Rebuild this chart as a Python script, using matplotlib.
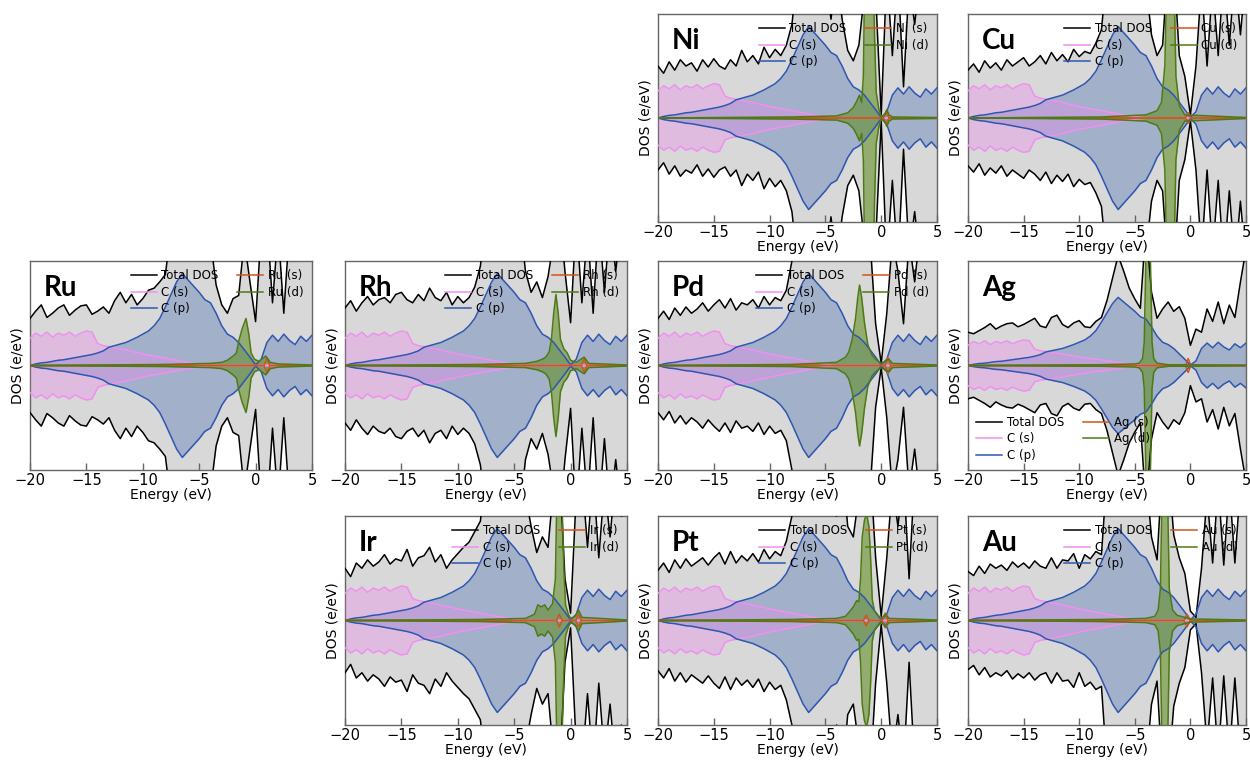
import numpy as np
import matplotlib
matplotlib.use("Agg")
import matplotlib.pyplot as plt

# energy grid of the carbon / total curves (eV)
ENERGY = np.linspace(-20, 5, 51)

# carbon projections (same sheet in every panel)
C_S = [2.6, 3.1, 2.8, 3.2, 2.7, 3.1, 2.9, 3.2, 2.8, 3.1,
       3.3, 3.2, 2.1, 1.9, 1.8, 1.7, 1.6, 1.5, 1.35, 1.25,
       1.1, 1.0, 0.9, 0.8, 0.72, 0.6, 0.5, 0.4, 0.3, 0.2,
       0.12, 0.06, 0.03, 0.02, 0.02, 0.02, 0.02, 0.02, 0.02, 0.02,
       0.01, 0.03, 0.05, 0.05, 0.04, 0.05, 0.05, 0.06, 0.05, 0.06, 0.06]
C_P = [0.0, 0.15, 0.25, 0.3, 0.4, 0.5, 0.55, 0.65, 0.75, 0.85,
       0.95, 1.05, 1.2, 1.4, 1.75, 1.9, 2.05, 2.2, 2.45, 2.7,
       3.0, 3.3, 3.8, 4.5, 5.6, 6.8, 8.0, 8.8, 8.2, 7.6,
       7.0, 6.3, 6.0, 5.0, 3.8, 3.0, 2.7, 2.2, 1.5, 0.8,
       0.05, 0.6, 2.2, 2.9, 2.3, 3.0, 2.4, 2.0, 2.8, 2.3, 2.9]

# total DOS per panel
NI_TOT = [5.0, 4.3, 5.4, 4.6, 5.6, 5.0, 5.3, 4.5, 5.6, 4.9,
          5.7, 5.0, 4.7, 5.6, 5.0, 6.5, 5.4, 6.0, 5.2, 6.8,
          5.8, 6.6, 6.0, 7.0, 9.0, 14, 15, 15, 15, 15,
          14, 9.5, 14, 9.5, 6.5, 5.5, 7.0, 12, 15, 12,
          0.3, 14, 6.0, 14, 3.0, 13, 9, 14, 12, 14, 14]
CU_TOT = [4.6, 5.2, 4.4, 5.5, 4.8, 5.3, 4.6, 5.6, 5.0, 5.4,
          5.8, 5.0, 5.4, 6.0, 5.2, 6.3, 5.5, 6.1, 5.4, 6.6,
          5.9, 6.4, 6.2, 7.2, 8.5, 14, 15, 15, 15, 15,
          15, 14, 13, 8.0, 6.0, 7.0, 15, 15, 6.0, 4.0,
          0.3, 5.0, 13, 5.0, 13, 6.0, 14, 7.0, 14, 8.0, 14]
RU_TOT = [4.5, 5.2, 5.8, 4.6, 5.0, 5.5, 5.8, 4.8, 5.3, 5.7,
          5.8, 4.9, 5.2, 5.6, 5.0, 6.2, 7.0, 6.0, 6.8, 5.8,
          6.4, 7.2, 7.4, 8.0, 8.7, 13, 15, 15, 15, 15,
          15, 14, 12, 7.7, 5.8, 5.0, 6.4, 6.7, 12, 8.0,
          4.2, 13, 14, 6.0, 13, 5.0, 13, 12, 14, 13, 14]
RH_TOT = [5.5, 6.2, 5.2, 6.0, 6.6, 5.8, 6.3, 6.5, 6.0, 6.8,
          7.0, 6.3, 6.0, 6.8, 6.2, 7.4, 6.5, 6.2, 7.0, 5.8,
          6.6, 6.0, 6.5, 7.5, 9.5, 14, 15, 15, 15, 15,
          15, 14, 9.0, 7.0, 8.0, 6.5, 8.5, 12, 15, 9.0,
          4.1, 14, 6.0, 13, 5.0, 14, 7.0, 14, 9.0, 14, 14]
PD_TOT = [4.5, 5.2, 4.4, 5.5, 4.8, 5.6, 5.0, 5.4, 6.0, 5.2,
          5.8, 6.3, 5.5, 6.4, 5.3, 6.0, 5.8, 6.3, 5.5, 6.6,
          5.8, 6.5, 6.2, 7.2, 10, 14, 15, 15, 15, 15,
          15, 15, 15, 15, 15, 14, 15, 14, 12, 4.0,
          0.2, 5.0, 12, 9.0, 4.0, 12, 8.0, 13, 14, 14, 15]
AG_TOT = [4.3, 4.1, 4.5, 4.9, 5.4, 4.7, 5.1, 5.4, 5.5, 5.0,
          5.3, 5.7, 6.1, 5.1, 4.9, 6.2, 6.5, 5.3, 4.9, 5.5,
          5.8, 5.0, 4.9, 5.7, 6.2, 8.4, 11.3, 14.2, 12.2, 10.0,
          8.6, 7.4, 18, 9.5, 6.1, 7.3, 8.2, 7.0, 7.6, 6.1,
          2.6, 4.7, 4.3, 7.3, 5.7, 8.2, 5.4, 7.8, 6.2, 10.8, 15]
IR_TOT = [5.0, 4.2, 5.5, 5.0, 5.8, 5.2, 5.6, 6.3, 5.4, 5.9,
          5.7, 6.8, 5.2, 6.0, 6.2, 7.0, 5.6, 6.3, 5.0, 5.8,
          6.4, 7.0, 7.5, 8.5, 9.5, 14, 15, 15, 15, 15,
          14, 15, 12, 9.0, 6.5, 8.0, 7.0, 13, 15, 4.0,
          0.7, 12, 14, 7.0, 14, 6.0, 13, 8.0, 14, 10, 14]
PT_TOT = [4.8, 5.5, 4.6, 5.8, 5.0, 5.9, 5.2, 5.6, 6.0, 5.3,
          6.0, 6.5, 5.4, 6.6, 5.5, 6.2, 5.7, 6.4, 5.6, 6.8,
          5.9, 6.6, 6.2, 7.6, 10, 14, 15, 15, 15, 15,
          15, 14, 10, 15, 9.0, 8.0, 12, 15, 15, 6.0,
          0.4, 6.0, 13, 9.0, 14, 4.0, 14, 12, 14, 13, 14]
AU_TOT = [4.7, 4.3, 5.2, 4.5, 5.4, 5.0, 5.3, 4.8, 5.6, 5.1,
          5.5, 5.0, 5.7, 5.2, 5.0, 6.0, 5.0, 5.8, 5.7, 6.4,
          5.0, 6.3, 5.9, 6.6, 6.3, 14, 15, 15, 15, 14,
          15, 12, 14, 8.0, 5.8, 15, 15, 8.2, 6.0, 4.5,
          0.9, 0.3, 5.0, 12, 5.5, 13, 5.3, 13, 5.5, 13, 14]

# metal d projections (energy, value)
NI_D_E = [-20, -8, -4, -3, -2.5, -2.2, -1.95, -1.75, -1.6, -1.5, -1.2, -0.9,
          -0.7, -0.6, -0.45, -0.2, 0.0, 0.3, 0.5, 0.7, 1.0, 5]
NI_D = [0, 0.1, 0.2, 0.5, 1.0, 1.6, 2.2, 1.5, 4, 12, 16, 16,
        14, 8, 2.5, 0.8, 0.1, 0.3, 0.8, 0.3, 0.1, 0.05]
CU_D_E = [-20, -8, -4, -3, -2.6, -2.3, -2.15, -1.8, -1.45, -1.3, -1.0, -0.5, 5]
CU_D = [0, 0.1, 0.3, 0.7, 1.5, 5, 12, 18, 12, 4, 1.2, 0.3, 0.05]
RU_D_E = [-20, -8, -4, -3, -2.5, -2.0, -1.7, -1.5, -1.2, -0.85, -0.6, -0.4,
          -0.1, 0.3, 0.9, 1.3, 2, 5]
RU_D = [0, 0.1, 0.2, 0.3, 0.5, 0.9, 1.2, 2.3, 3.5, 4.5, 3.0, 1.2,
        0.6, 0.4, 0.9, 0.3, 0.15, 0.05]
RH_D_E = [-20, -8, -4, -3, -2.5, -2.2, -1.9, -1.7, -1.5, -1.3, -1.1, -0.9,
          -0.6, -0.3, 0, 0.5, 1.2, 1.6, 5]
RH_D = [0, 0.1, 0.2, 0.4, 0.6, 0.8, 1.3, 2.5, 5.0, 6.8, 5.0, 2.5,
        1.6, 1.2, 0.5, 0.3, 0.8, 0.2, 0.05]
PD_D_E = [-20, -8, -4, -3.2, -2.9, -2.6, -2.3, -2.1, -1.94, -1.75, -1.5, -1.2,
          -0.83, -0.5, 0, 0.7, 1.0, 5]
PD_D = [0, 0.1, 0.3, 0.8, 1.3, 2.5, 4.5, 6.5, 7.7, 6.5, 4.1, 2.0,
        1.0, 0.6, 0.2, 0.6, 0.2, 0.05]
AG_D_E = [-20, -8, -5, -4.6, -4.3, -4.15, -4.0, -3.8, -3.6, -3.45, -3.3, -3.0, -2, 5]
AG_D = [0, 0.1, 0.2, 0.3, 0.9, 3, 14, 20, 14, 3, 0.9, 0.3, 0.1, 0.05]
IR_D_E = [-20, -8, -4, -3.2, -2.9, -2.6, -2.3, -2.0, -1.6, -1.35, -1.2, -1.0,
          -0.8, -0.6, -0.45, -0.2, 0.0, 0.4, 0.7, 1.0, 5]
IR_D = [0, 0.1, 0.2, 0.6, 1.5, 1.3, 1.5, 1.0, 1.6, 4, 13, 16,
        13, 5, 1.5, 0.6, 0.2, 0.4, 1.0, 0.3, 0.05]
PT_D_E = [-20, -8, -4, -3.2, -2.8, -2.5, -2.2, -2.0, -1.85, -1.7, -1.5, -1.3,
          -1.1, -0.95, -0.8, -0.6, -0.3, 0, 0.4, 0.7, 5]
PT_D = [0, 0.1, 0.2, 0.4, 0.9, 1.3, 1.9, 1.8, 4, 8, 9.6, 10.2,
        9, 6, 2, 0.9, 0.5, 0.2, 0.6, 0.2, 0.05]
AU_D_E = [-20, -8, -4, -3.2, -2.9, -2.7, -2.55, -2.3, -2.05, -1.9, -1.6, -1.2, -0.5, 0, 5]
AU_D = [0, 0.1, 0.2, 0.4, 1.0, 3, 12, 16, 12, 3, 1.0, 0.5, 0.3, 0.15, 0.05]

# metal s projections (energy, value)
NI_S_E = [-20, 0.2, 0.45, 0.7, 5]
NI_S = [0, 0, 0.6, 0, 0]
CU_S_E = [-20, -0.45, -0.2, 0.05, 5]
CU_S = [0, 0, 0.5, 0, 0]
RU_S_E = [-20, 0.75, 1.0, 1.25, 5]
RU_S = [0, 0, 0.7, 0, 0]
RH_S_E = [-20, 0.95, 1.2, 1.45, 5]
RH_S = [0, 0, 0.6, 0, 0]
PD_S_E = [-20, 0.35, 0.6, 0.85, 5]
PD_S = [0, 0, 0.8, 0, 0]
AG_S_E = [-20, -0.45, -0.2, 0.05, 5]
AG_S = [0, 0, 0.9, 0, 0]
IR_S_E = [-20, -1.25, -1.0, -0.75, 0.45, 0.7, 0.95, 5]
IR_S = [0, 0, 0.6, 0, 0, 0.6, 0, 0]
PT_S_E = [-20, -1.6, -1.35, -1.1, 0.1, 0.35, 0.6, 5]
PT_S = [0, 0, 0.5, 0, 0, 0.7, 0, 0]
AU_S_E = [-20, -0.6, -0.3, 0.0, 5]
AU_S = [0, 0, 0.6, 0, 0]

# panel table: name, axes box in pixels (left, top, width, height), y half range, legend place
PANELS = [
    ("Ni", (658, 14, 279, 208), NI_TOT, NI_D_E, NI_D, NI_S_E, NI_S, 10, "upper right"),
    ("Cu", (968, 14, 278, 208), CU_TOT, CU_D_E, CU_D, CU_S_E, CU_S, 10, "upper right"),
    ("Ru", (30, 261, 282, 209), RU_TOT, RU_D_E, RU_D, RU_S_E, RU_S, 10, "upper right"),
    ("Rh", (345, 261, 282, 209), RH_TOT, RH_D_E, RH_D, RH_S_E, RH_S, 10, "upper right"),
    ("Pd", (658, 261, 279, 209), PD_TOT, PD_D_E, PD_D, PD_S_E, PD_S, 10, "upper right"),
    ("Ag", (968, 261, 278, 209), AG_TOT, AG_D_E, AG_D, AG_S_E, AG_S, 13.5, "lower left"),
    ("Ir", (345, 516, 282, 209), IR_TOT, IR_D_E, IR_D, IR_S_E, IR_S, 10, "upper right"),
    ("Pt", (658, 516, 279, 209), PT_TOT, PT_D_E, PT_D, PT_S_E, PT_S, 10, "upper right"),
    ("Au", (968, 516, 278, 209), AU_TOT, AU_D_E, AU_D, AU_S_E, AU_S, 10, "upper right"),
]

W, H = 1250, 761
fig = plt.figure(figsize=(W / 100, H / 100), dpi=100)

for name, (px, py, pw, ph), tot, d_e, d_v, s_e, s_v, ymax, loc in PANELS:
    ax = fig.add_axes([px / W, 1 - (py + ph) / H, pw / W, ph / H])
    tot = np.array(tot)
    cs = np.array(C_S)
    cp = np.array(C_P)
    d_e = np.array(d_e)
    d_v = np.array(d_v)
    s_e = np.array(s_e)
    s_v = np.array(s_v)

    # spin up on top, spin down mirrored below
    for sign in (1, -1):
        ax.fill_between(ENERGY, 0, sign * tot, color="#d8d8d8", lw=0, zorder=1)
        ax.fill_between(ENERGY, 0, sign * cp, color="#4a6fb5", alpha=0.38, lw=0, zorder=2)
        ax.fill_between(ENERGY, 0, sign * cs, color="#ee88ee", alpha=0.35, lw=0, zorder=3)
        ax.fill_between(d_e, 0, sign * d_v, color="#5b8a1a", alpha=0.55, lw=0, zorder=4)
        lab = sign > 0
        ax.plot(ENERGY, sign * tot, color="black", lw=1.1, zorder=6,
                label="Total DOS" if lab else None)
        ax.plot(ENERGY, sign * cs, color="#f090f0", lw=1.1, zorder=6,
                label="C (s)" if lab else None)
        ax.plot(ENERGY, sign * cp, color="#2f56b0", lw=1.1, zorder=6,
                label="C (p)" if lab else None)
        ax.plot(s_e, sign * s_v, color="#d2541c", lw=1.1, zorder=6.5,
                label=f"{name} (s)" if lab else None)
        ax.plot(d_e, sign * d_v, color="#4e7a16", lw=1.1, zorder=7,
                label=f"{name} (d)" if lab else None)

    ax.set_xlim(-20, 5)
    ax.set_ylim(-ymax, ymax)
    ax.set_xticks([-20, -15, -10, -5, 0, 5])
    ax.set_xticklabels(["\u221220", "\u221215", "\u221210", "\u22125", "0", "5"])
    ax.set_yticks([])
    ax.tick_params(axis="x", direction="in", length=5, width=1, color="#666666",
                   labelsize=10.5, pad=2.5)
    for sp in ax.spines.values():
        sp.set_color("#666666")
        sp.set_linewidth(1.0)
    ax.set_xlabel("Energy (eV)", fontsize=10, labelpad=0)
    ax.set_ylabel("DOS (e/eV)", fontsize=10, labelpad=4)

    ax.text(0.05, 0.87, name, transform=ax.transAxes, fontsize=20,
            fontweight="bold", family=["Lato", "DejaVu Sans"],
            ha="left", va="center", zorder=10)

    leg = ax.legend(loc=loc, ncol=2, fontsize=8.5, frameon=False,
                    handlelength=2.2, handletextpad=0.4, columnspacing=1.6,
                    labelspacing=0.3, borderaxespad=0.3)
    leg.set_zorder(9)

fig.savefig("out.png", dpi=100)
